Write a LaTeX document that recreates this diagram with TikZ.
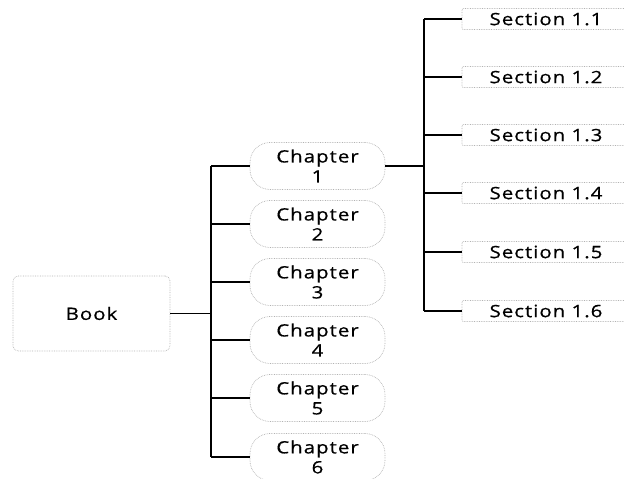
\documentclass[tikz,border=0pt]{standalone}
\usepackage{fontspec}
\setmainfont{Open Sans}[LetterSpace=6,FakeStretch=1.2,FakeBold=0.6]
\begin{document}
\begin{tikzpicture}[x=1pt,y=-1pt,
  box/.style={draw=gray!60, line width=0.7pt, densely dotted, fill=white, align=center, inner sep=0pt,
    font=\fontsize{17}{20}\selectfont},
  bookbox/.style={box, rounded corners=5pt, minimum width=157pt, minimum height=75pt},
  chapbox/.style={box, rounded corners=20pt, minimum width=135pt, minimum height=47pt},
  secbox/.style={box, rounded corners=1pt, minimum width=168pt, minimum height=21pt},
  link/.style={draw=black, line width=1.3pt}]
\useasboundingbox (0,0) rectangle (624,479);
\clip (0,0) rectangle (624,479);
\node[bookbox] (book) at (91.5,313.5) {Book};
\foreach \i/\y in {1/166,2/224,3/282,4/340,5/398,6/457}{
  \node[chapbox] (c\i) at (317.5,\y) {Chapter\\\i};
}
\foreach \i/\y in {1/19,2/77,3/135,4/193,5/252,6/311}{
  \node[secbox] (s\i) at (546,\y) {Section 1.\i};
}
\coordinate (t1) at (211,0);
\coordinate (t2) at (424,0);
\draw[link] (book.east) -- (book.east -| t1);
\draw[link] (c1.west -| t1) -- (c6.west -| t1);
\foreach \i in {1,...,6}{
  \draw[link] (c\i.west -| t1) -- (c\i.west);
}
\draw[link] (c1.east) -- (c1.east -| t2);
\draw[link] (s1.west -| t2) -- (s6.west -| t2);
\foreach \i in {1,...,6}{
  \draw[link] (s\i.west -| t2) -- (s\i.west);
}
\end{tikzpicture}
\end{document}
